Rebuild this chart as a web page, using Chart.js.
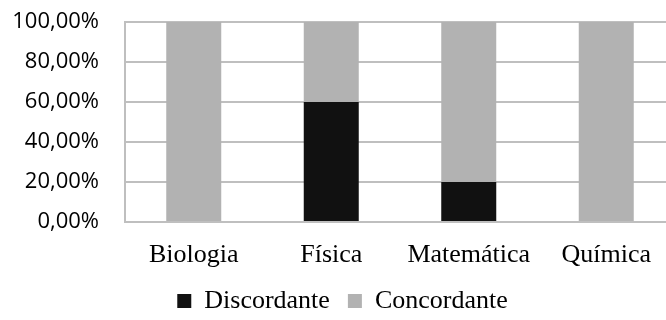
<!DOCTYPE html>
<html>
<head>
<meta charset="utf-8">
<script src="https://cdn.jsdelivr.net/npm/chart.js@4/dist/chart.umd.min.js"></script>
<style>
html,body{margin:0;padding:0;background:#fff;overflow:hidden;}
#wrap{width:676px;height:320px;position:relative;}
</style>
</head>
<body>
<div id="wrap"><canvas id="c"></canvas></div>
<script>
const categories = ["Biologia", "Física", "Matemática", "Química"];
const discordante = [0, 60, 20, 0];
const concordante = [100, 40, 80, 100];
const yTicks = [0, 20, 40, 60, 80, 100];

const serif = "'Liberation Serif', 'Times New Roman', serif";
const sans = "'Open Sans', sans-serif";

new Chart(document.getElementById('c'), {
  type: 'bar',
  data: {
    labels: categories,
    datasets: [
      { label: 'Discordante', data: discordante, backgroundColor: '#111111', borderWidth: 0 },
      { label: 'Concordante', data: concordante, backgroundColor: '#b2b2b2', borderWidth: 0 }
    ]
  },
  options: {
    responsive: true,
    maintainAspectRatio: false,
    animation: false,
    devicePixelRatio: 1,
    layout: { padding: { top: 22, right: 1, left: 10, bottom: -4 } },
    datasets: { bar: { barPercentage: 0.4, categoryPercentage: 1.0 } },
    plugins: {
      tooltip: { enabled: false },
      legend: {
        position: 'bottom',
        labels: {
          font: { family: serif, size: 26 },
          color: '#000',
          boxWidth: 14,
          boxHeight: 14,
          padding: 18
        }
      }
    },
    scales: {
      x: {
        stacked: true,
        grid: { display: false, drawTicks: false },
        border: { display: true, color: '#bfbfbf', width: 2 },
        ticks: { font: { family: serif, size: 26 }, color: '#000', padding: 18, maxRotation: 0 },
        afterFit: (s) => { s.height = 48; }
      },
      y: {
        stacked: true,
        min: 0, max: 100,
        afterBuildTicks: (s) => { s.ticks = yTicks.map(v => ({ value: v })); },
        grid: { color: '#bfbfbf', lineWidth: 2, drawTicks: true, tickLength: 24, tickColor: 'rgba(0,0,0,0)' },
        border: { display: true, color: '#bfbfbf', width: 2 },
        ticks: {
          font: { family: sans, size: 22 },
          color: '#000',
          padding: 2,
          callback: (v) => v.toFixed(2).replace('.', ',') + '%'
        },
        afterFit: (s) => { s.width = 115; }
      }
    }
  }
});
</script>
</body>
</html>
